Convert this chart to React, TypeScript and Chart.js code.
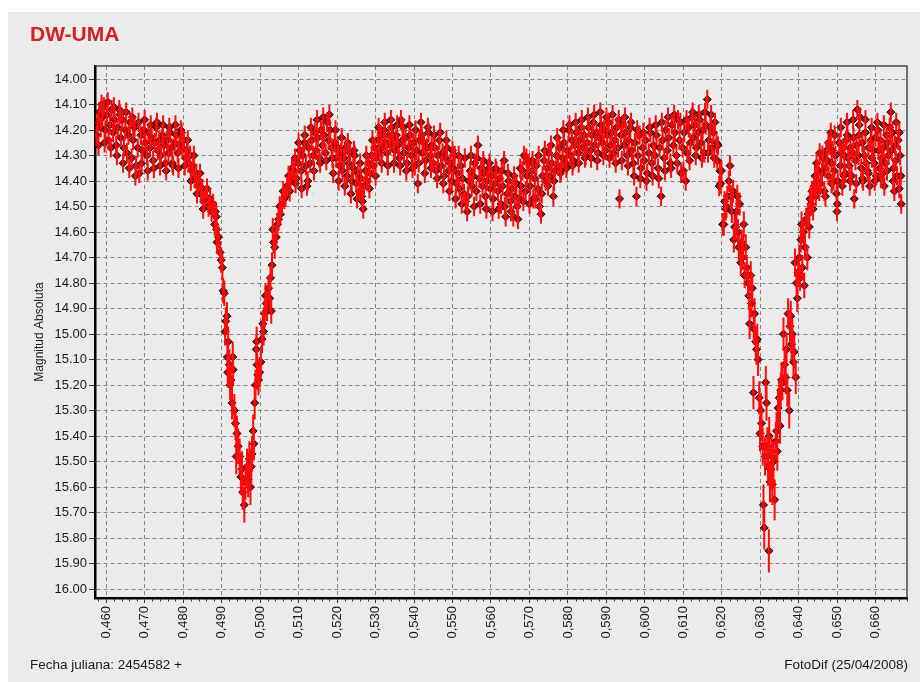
import { useEffect, useRef } from 'react';
import { Chart, registerables } from 'chart.js';

Chart.register(...registerables);

// ---- axes ----
const xTicks = [0.46, 0.47, 0.48, 0.49, 0.5, 0.51, 0.52, 0.53, 0.54, 0.55, 0.56, 0.57, 0.58, 0.59, 0.6, 0.61, 0.62, 0.63, 0.64, 0.65, 0.66];
const yTicks = [14.0, 14.1, 14.2, 14.3, 14.4, 14.5, 14.6, 14.7, 14.8, 14.9, 15.0, 15.1, 15.2, 15.3, 15.4, 15.5, 15.6, 15.7, 15.8, 15.9, 16.0];
const xMin = 0.4571;
const xMax = 0.6681;
const yMin = 13.949;
const yMax = 16.035;

const titleText = 'DW-UMA';
const yTitle = 'Magnitud Absoluta';
const footLeft = 'Fecha juliana: 2454582 +';
const footRight = 'FotoDif (25/04/2008)';

// typical error in the bright (out-of-eclipse) parts
const errFlat = 0.038;

// ---- observations: [JD - 2454582, magnitude] ----
const segA: [number, number][] = [
  [0.4575, 14.22], [0.4578, 14.17], [0.4582, 14.13], [0.4586, 14.19], [0.4590, 14.15], [0.4594, 14.11], [0.4598, 14.20], [0.4602, 14.14],
  [0.4606, 14.24], [0.4610, 14.18], [0.4614, 14.12], [0.4618, 14.21], [0.4622, 14.16], [0.4626, 14.26], [0.4630, 14.19], [0.4634, 14.12],
  [0.4638, 14.23], [0.4642, 14.16], [0.4646, 14.27], [0.4650, 14.20], [0.4654, 14.29], [0.4658, 14.22], [0.4662, 14.17], [0.4666, 14.31],
  [0.4670, 14.24], [0.4674, 14.19], [0.4678, 14.34], [0.4682, 14.27], [0.4686, 14.37], [0.4690, 14.22], [0.4694, 14.28], [0.4698, 14.20],
  [0.4702, 14.25], [0.4706, 14.30], [0.4710, 14.21], [0.4714, 14.27], [0.4718, 14.23], [0.4722, 14.32], [0.4726, 14.25], [0.4730, 14.19],
  [0.4734, 14.28], [0.4738, 14.24], [0.4742, 14.30], [0.4746, 14.22], [0.4750, 14.26], [0.4754, 14.33], [0.4758, 14.24], [0.4762, 14.29],
  [0.4766, 14.21], [0.4770, 14.27], [0.4774, 14.34], [0.4778, 14.25], [0.4782, 14.22], [0.4786, 14.29], [0.4790, 14.26], [0.4794, 14.20],
  [0.4798, 14.27], [0.4802, 14.24], [0.4806, 14.31], [0.4810, 14.28], [0.4814, 14.33], [0.4818, 14.30], [0.4822, 14.36], [0.4826, 14.34],
  [0.4830, 14.39], [0.4834, 14.37], [0.4838, 14.42], [0.4842, 14.40], [0.4846, 14.45], [0.4850, 14.43], [0.4854, 14.48],
];
const segAextra: [number, number][] = [
  [0.4580, 14.26], [0.4588, 14.10], [0.4596, 14.25], [0.4604, 14.09], [0.4612, 14.27], [0.4620, 14.11], [0.4628, 14.30], [0.4636, 14.14],
  [0.4644, 14.33], [0.4652, 14.13], [0.4660, 14.35], [0.4668, 14.15], [0.4676, 14.38], [0.4684, 14.17], [0.4692, 14.33], [0.4700, 14.16],
  [0.4708, 14.36], [0.4716, 14.18], [0.4724, 14.35], [0.4732, 14.17], [0.4740, 14.34], [0.4748, 14.18], [0.4756, 14.36], [0.4764, 14.19],
  [0.4772, 14.33], [0.4780, 14.18], [0.4788, 14.35], [0.4796, 14.21], [0.4804, 14.34], [0.4812, 14.24], [0.4820, 14.40], [0.4828, 14.30],
  [0.4836, 14.45], [0.4844, 14.37], [0.4852, 14.51],
];

// primary eclipse: [JD, magnitude, error]
const eclipseI: [number, number, number][] = [
  [0.4858, 14.46, 0.04], [0.4862, 14.43, 0.04], [0.4866, 14.50, 0.04], [0.4870, 14.47, 0.04], [0.4874, 14.52, 0.04], [0.4878, 14.49, 0.04],
  [0.4882, 14.57, 0.045], [0.4884, 14.52, 0.04], [0.4886, 14.54, 0.045], [0.4887, 14.59, 0.045], [0.4888, 14.64, 0.045], [0.4892, 14.62, 0.045],
  [0.4896, 14.68, 0.045], [0.4899, 14.71, 0.05], [0.4902, 14.74, 0.05], [0.4904, 14.83, 0.05], [0.4907, 14.84, 0.05], [0.4909, 14.99, 0.055],
  [0.4911, 14.95, 0.055], [0.4914, 14.93, 0.055], [0.4915, 15.09, 0.06], [0.4916, 15.15, 0.06], [0.4917, 15.03, 0.06], [0.4920, 15.12, 0.06],
  [0.4922, 15.20, 0.06], [0.4924, 15.18, 0.06], [0.4927, 15.27, 0.065], [0.4929, 15.09, 0.06], [0.4930, 15.14, 0.06], [0.4933, 15.30, 0.065],
  [0.4936, 15.35, 0.065], [0.4938, 15.48, 0.07], [0.4940, 15.39, 0.07], [0.4943, 15.44, 0.07], [0.4947, 15.48, 0.07], [0.4950, 15.56, 0.07],
  [0.4953, 15.53, 0.07], [0.4955, 15.62, 0.07], [0.4959, 15.67, 0.07], [0.4962, 15.58, 0.07], [0.4966, 15.52, 0.07], [0.4969, 15.57, 0.07],
  [0.4972, 15.49, 0.07], [0.4975, 15.60, 0.07], [0.4977, 15.52, 0.07], [0.4979, 15.47, 0.07], [0.4982, 15.38, 0.065], [0.4984, 15.43, 0.065],
  [0.4986, 15.27, 0.065], [0.4988, 15.20, 0.06], [0.4990, 15.06, 0.06], [0.4991, 15.03, 0.06], [0.4992, 15.12, 0.06], [0.4994, 15.16, 0.06],
  [0.4996, 15.18, 0.06], [0.4999, 15.15, 0.06], [0.5002, 15.11, 0.06], [0.5005, 15.02, 0.055], [0.5007, 14.96, 0.055], [0.5009, 14.99, 0.055],
  [0.5012, 14.92, 0.055], [0.5014, 14.85, 0.05], [0.5016, 14.88, 0.05], [0.5018, 14.90, 0.05], [0.5022, 14.82, 0.05], [0.5025, 14.86, 0.05],
  [0.5027, 14.78, 0.05], [0.5029, 14.91, 0.05], [0.5031, 14.73, 0.05], [0.5033, 14.59, 0.045], [0.5035, 14.64, 0.045], [0.5038, 14.66, 0.045],
  [0.5042, 14.62, 0.045], [0.5045, 14.57, 0.045], [0.5048, 14.55, 0.045], [0.5051, 14.50, 0.04], [0.5053, 14.53, 0.04], [0.5057, 14.49, 0.04],
  [0.5060, 14.44, 0.04], [0.5063, 14.47, 0.04], [0.5066, 14.46, 0.04], [0.5070, 14.42, 0.04], [0.5074, 14.38, 0.04], [0.5077, 14.44, 0.04],
  [0.5079, 14.40, 0.04], [0.5083, 14.35, 0.04],
];

const segB1: [number, number][] = [
  [0.5087, 14.36], [0.5091, 14.31], [0.5095, 14.39], [0.5099, 14.33], [0.5103, 14.28], [0.5107, 14.36], [0.5111, 14.30], [0.5115, 14.25],
  [0.5119, 14.34], [0.5122, 14.42], [0.5126, 14.27], [0.5130, 14.33], [0.5134, 14.24], [0.5138, 14.30], [0.5142, 14.21], [0.5146, 14.28],
  [0.5150, 14.23], [0.5154, 14.31], [0.5158, 14.20], [0.5162, 14.26], [0.5166, 14.22], [0.5170, 14.29], [0.5174, 14.17], [0.5178, 14.24],
  [0.5182, 14.20], [0.5186, 14.27], [0.5190, 14.37], [0.5194, 14.25], [0.5198, 14.31], [0.5202, 14.27], [0.5206, 14.34], [0.5210, 14.29],
  [0.5214, 14.36], [0.5218, 14.31], [0.5222, 14.27], [0.5226, 14.38], [0.5230, 14.33], [0.5234, 14.29], [0.5238, 14.40], [0.5242, 14.35],
  [0.5246, 14.30], [0.5250, 14.41], [0.5254, 14.37], [0.5258, 14.44], [0.5262, 14.39], [0.5266, 14.48], [0.5268, 14.51], [0.5270, 14.42],
  [0.5274, 14.36], [0.5278, 14.40], [0.5282, 14.33], [0.5286, 14.37], [0.5290, 14.30], [0.5294, 14.34], [0.5298, 14.27], [0.5302, 14.31],
  [0.5306, 14.24], [0.5310, 14.29], [0.5314, 14.22], [0.5318, 14.27], [0.5322, 14.20], [0.5326, 14.25], [0.5330, 14.29], [0.5334, 14.22],
  [0.5338, 14.26], [0.5342, 14.19], [0.5346, 14.24], [0.5350, 14.28], [0.5354, 14.22], [0.5358, 14.26], [0.5362, 14.31], [0.5366, 14.16],
  [0.5370, 14.24], [0.5374, 14.29], [0.5378, 14.23], [0.5382, 14.33], [0.5386, 14.27], [0.5390, 14.22], [0.5394, 14.30], [0.5398, 14.25],
  [0.5402, 14.34], [0.5406, 14.28], [0.5410, 14.41], [0.5414, 14.24], [0.5418, 14.17], [0.5422, 14.29], [0.5426, 14.25], [0.5430, 14.32],
  [0.5434, 14.27], [0.5438, 14.21], [0.5442, 14.30], [0.5446, 14.26],
];
const segB1extra: [number, number][] = [
  [0.5092, 14.41], [0.5100, 14.25], [0.5108, 14.43], [0.5116, 14.22], [0.5124, 14.40], [0.5132, 14.19], [0.5140, 14.36], [0.5148, 14.16],
  [0.5156, 14.33], [0.5164, 14.15], [0.5172, 14.32], [0.5180, 14.14], [0.5188, 14.31], [0.5196, 14.20], [0.5204, 14.40], [0.5212, 14.23],
  [0.5220, 14.42], [0.5228, 14.25], [0.5236, 14.45], [0.5244, 14.28], [0.5252, 14.47], [0.5260, 14.33], [0.5264, 14.46], [0.5276, 14.30],
  [0.5284, 14.43], [0.5292, 14.24], [0.5300, 14.38], [0.5308, 14.19], [0.5316, 14.33], [0.5324, 14.17], [0.5332, 14.34], [0.5340, 14.16],
  [0.5348, 14.33], [0.5356, 14.18], [0.5364, 14.34], [0.5372, 14.19], [0.5380, 14.36], [0.5388, 14.18], [0.5396, 14.35], [0.5404, 14.20],
  [0.5412, 14.33], [0.5420, 14.22], [0.5428, 14.37], [0.5436, 14.19], [0.5444, 14.35],
];

const segB2: [number, number][] = [
  [0.5450, 14.33], [0.5454, 14.27], [0.5458, 14.36], [0.5462, 14.30], [0.5466, 14.24], [0.5470, 14.34], [0.5474, 14.29], [0.5478, 14.38],
  [0.5482, 14.31], [0.5486, 14.27], [0.5490, 14.36], [0.5494, 14.33], [0.5498, 14.40], [0.5502, 14.35], [0.5506, 14.30], [0.5510, 14.41],
  [0.5514, 14.37], [0.5518, 14.43], [0.5522, 14.34], [0.5526, 14.39], [0.5530, 14.45], [0.5534, 14.48], [0.5538, 14.52], [0.5542, 14.40],
  [0.5546, 14.36], [0.5550, 14.42], [0.5554, 14.38], [0.5558, 14.33], [0.5562, 14.44], [0.5566, 14.26], [0.5570, 14.39], [0.5574, 14.35],
  [0.5578, 14.42], [0.5582, 14.37], [0.5586, 14.46], [0.5590, 14.40], [0.5594, 14.35], [0.5598, 14.43], [0.5602, 14.38], [0.5606, 14.47],
  [0.5610, 14.41], [0.5614, 14.36], [0.5618, 14.44], [0.5622, 14.39], [0.5626, 14.49], [0.5630, 14.42], [0.5634, 14.32], [0.5638, 14.54],
  [0.5642, 14.45], [0.5646, 14.40], [0.5650, 14.48], [0.5654, 14.43], [0.5658, 14.54], [0.5662, 14.46], [0.5666, 14.41], [0.5670, 14.55],
  [0.5674, 14.47], [0.5678, 14.42], [0.5682, 14.36], [0.5686, 14.30], [0.5690, 14.44], [0.5694, 14.38], [0.5698, 14.33], [0.5702, 14.42],
  [0.5706, 14.36], [0.5710, 14.47], [0.5714, 14.39], [0.5718, 14.34], [0.5722, 14.43], [0.5726, 14.50], [0.5730, 14.53], [0.5734, 14.38],
  [0.5738, 14.32], [0.5742, 14.40], [0.5746, 14.35], [0.5750, 14.29], [0.5754, 14.38], [0.5758, 14.33], [0.5762, 14.46], [0.5766, 14.36],
  [0.5770, 14.30], [0.5774, 14.34], [0.5778, 14.27], [0.5782, 14.36], [0.5786, 14.31], [0.5790, 14.25], [0.5794, 14.33], [0.5798, 14.28],
  [0.5802, 14.20], [0.5806, 14.30], [0.5810, 14.24], [0.5814, 14.32], [0.5818, 14.26], [0.5822, 14.21], [0.5826, 14.29], [0.5830, 14.24],
  [0.5834, 14.19], [0.5838, 14.27], [0.5842, 14.22], [0.5846, 14.30],
];
const segB2extra: [number, number][] = [
  [0.5452, 14.22], [0.5460, 14.39], [0.5468, 14.21], [0.5476, 14.41], [0.5484, 14.24], [0.5492, 14.44], [0.5500, 14.28], [0.5508, 14.47],
  [0.5516, 14.30], [0.5524, 14.49], [0.5532, 14.31], [0.5540, 14.46], [0.5548, 14.30], [0.5556, 14.50], [0.5564, 14.31], [0.5572, 14.49],
  [0.5580, 14.32], [0.5588, 14.51], [0.5596, 14.33], [0.5604, 14.52], [0.5612, 14.35], [0.5620, 14.51], [0.5628, 14.36], [0.5636, 14.50],
  [0.5644, 14.37], [0.5652, 14.52], [0.5660, 14.38], [0.5668, 14.50], [0.5676, 14.35], [0.5684, 14.48], [0.5692, 14.31], [0.5700, 14.49],
  [0.5708, 14.32], [0.5716, 14.47], [0.5724, 14.30], [0.5732, 14.45], [0.5740, 14.28], [0.5748, 14.42], [0.5756, 14.26], [0.5764, 14.40],
  [0.5772, 14.23], [0.5780, 14.37], [0.5788, 14.20], [0.5796, 14.35], [0.5804, 14.18], [0.5812, 14.34], [0.5820, 14.17], [0.5828, 14.33],
  [0.5836, 14.16], [0.5844, 14.31],
];

const segB3: [number, number][] = [
  [0.5850, 14.25], [0.5854, 14.19], [0.5858, 14.28], [0.5862, 14.22], [0.5866, 14.17], [0.5870, 14.26], [0.5874, 14.21], [0.5878, 14.29],
  [0.5882, 14.23], [0.5886, 14.18], [0.5890, 14.25], [0.5894, 14.20], [0.5898, 14.28], [0.5902, 14.22], [0.5906, 14.17], [0.5910, 14.26],
  [0.5914, 14.21], [0.5918, 14.29], [0.5922, 14.24], [0.5926, 14.19], [0.5930, 14.27], [0.5934, 14.47], [0.5938, 14.22], [0.5942, 14.18],
  [0.5946, 14.26], [0.5950, 14.21], [0.5954, 14.30], [0.5958, 14.24], [0.5962, 14.19], [0.5966, 14.28], [0.5970, 14.33], [0.5974, 14.25],
  [0.5978, 14.46], [0.5982, 14.30], [0.5986, 14.22], [0.5990, 14.35], [0.5994, 14.27], [0.5998, 14.32], [0.6002, 14.24], [0.6006, 14.37],
  [0.6010, 14.29], [0.6014, 14.21], [0.6018, 14.33], [0.6022, 14.26], [0.6026, 14.30], [0.6030, 14.22], [0.6034, 14.35], [0.6038, 14.27],
  [0.6042, 14.46], [0.6046, 14.24], [0.6050, 14.31], [0.6054, 14.20], [0.6058, 14.28], [0.6062, 14.23], [0.6066, 14.33], [0.6070, 14.18],
  [0.6074, 14.26], [0.6078, 14.21], [0.6082, 14.30], [0.6086, 14.16], [0.6090, 14.24], [0.6094, 14.37], [0.6098, 14.27], [0.6102, 14.21],
  [0.6106, 14.40], [0.6110, 14.29], [0.6114, 14.19], [0.6118, 14.25], [0.6122, 14.15], [0.6126, 14.23], [0.6130, 14.18], [0.6134, 14.27],
  [0.6138, 14.21], [0.6142, 14.16], [0.6146, 14.25], [0.6150, 14.20], [0.6154, 14.29], [0.6158, 14.18], [0.6162, 14.08], [0.6166, 14.24],
  [0.6170, 14.19], [0.6174, 14.27], [0.6178, 14.21], [0.6182, 14.17], [0.6186, 14.25],
];
const segB3extra: [number, number][] = [
  [0.5852, 14.15], [0.5860, 14.31], [0.5868, 14.14], [0.5876, 14.32], [0.5884, 14.13], [0.5892, 14.30], [0.5900, 14.15], [0.5908, 14.31],
  [0.5916, 14.14], [0.5924, 14.33], [0.5932, 14.16], [0.5940, 14.32], [0.5948, 14.15], [0.5956, 14.34], [0.5964, 14.17], [0.5972, 14.38],
  [0.5980, 14.20], [0.5988, 14.39], [0.5996, 14.21], [0.6004, 14.40], [0.6012, 14.19], [0.6020, 14.38], [0.6028, 14.18], [0.6036, 14.39],
  [0.6044, 14.17], [0.6052, 14.36], [0.6060, 14.15], [0.6068, 14.35], [0.6076, 14.14], [0.6084, 14.33], [0.6092, 14.17], [0.6100, 14.36],
  [0.6108, 14.16], [0.6116, 14.32], [0.6124, 14.13], [0.6132, 14.30], [0.6140, 14.14], [0.6148, 14.31], [0.6156, 14.13], [0.6164, 14.29],
  [0.6172, 14.14], [0.6180, 14.31],
];

// secondary eclipse: [JD, magnitude, error]
const eclipseII: [number, number, number][] = [
  [0.6188, 14.32, 0.035], [0.6190, 14.26, 0.035], [0.6193, 14.42, 0.04], [0.6195, 14.36, 0.035], [0.6197, 14.41, 0.04], [0.6199, 14.36, 0.04],
  [0.6202, 14.57, 0.045], [0.6205, 14.57, 0.045], [0.6207, 14.48, 0.04], [0.6210, 14.51, 0.045], [0.6212, 14.50, 0.045], [0.6214, 14.46, 0.04],
  [0.6218, 14.40, 0.04], [0.6221, 14.34, 0.04], [0.6223, 14.46, 0.045], [0.6226, 14.52, 0.045], [0.6229, 14.44, 0.045], [0.6231, 14.63, 0.05],
  [0.6233, 14.58, 0.05], [0.6236, 14.58, 0.05], [0.6238, 14.52, 0.045], [0.6240, 14.46, 0.045], [0.6242, 14.60, 0.05], [0.6244, 14.66, 0.05],
  [0.6246, 14.49, 0.045], [0.6249, 14.72, 0.05], [0.6251, 14.64, 0.05], [0.6253, 14.70, 0.05], [0.6255, 14.66, 0.05], [0.6257, 14.57, 0.05],
  [0.6259, 14.77, 0.05], [0.6262, 14.66, 0.05], [0.6265, 14.74, 0.05], [0.6268, 14.80, 0.055], [0.6270, 14.85, 0.055], [0.6272, 14.96, 0.06],
  [0.6275, 14.77, 0.055], [0.6277, 14.88, 0.055], [0.6279, 14.82, 0.055], [0.6282, 15.23, 0.065], [0.6283, 14.98, 0.06], [0.6285, 14.92, 0.06],
  [0.6288, 15.03, 0.06], [0.6290, 15.06, 0.06], [0.6292, 15.02, 0.06], [0.6294, 15.10, 0.065], [0.6297, 15.25, 0.065], [0.6299, 15.39, 0.07],
  [0.6301, 15.30, 0.07], [0.6303, 15.35, 0.07], [0.6306, 15.44, 0.075], [0.6308, 15.67, 0.08], [0.6310, 15.76, 0.085], [0.6312, 15.48, 0.075],
  [0.6314, 15.19, 0.065], [0.6316, 15.27, 0.07], [0.6318, 15.44, 0.075], [0.6320, 15.52, 0.075], [0.6322, 15.85, 0.085], [0.6323, 15.40, 0.075],
  [0.6325, 15.58, 0.08], [0.6327, 15.53, 0.08], [0.6329, 15.48, 0.08], [0.6331, 15.59, 0.08], [0.6334, 15.50, 0.08], [0.6337, 15.65, 0.08],
  [0.6340, 15.42, 0.075], [0.6342, 15.38, 0.075], [0.6344, 15.46, 0.075], [0.6346, 15.29, 0.07], [0.6349, 15.25, 0.07], [0.6351, 15.36, 0.07],
  [0.6353, 15.22, 0.07], [0.6355, 15.18, 0.07], [0.6357, 15.19, 0.07], [0.6360, 15.00, 0.065], [0.6363, 15.12, 0.065], [0.6366, 15.17, 0.065],
  [0.6368, 15.06, 0.065], [0.6370, 15.22, 0.065], [0.6372, 14.92, 0.06], [0.6375, 15.30, 0.07], [0.6377, 14.97, 0.06], [0.6379, 14.93, 0.06],
  [0.6381, 15.04, 0.06], [0.6383, 15.00, 0.06], [0.6386, 15.11, 0.065], [0.6388, 15.07, 0.065], [0.6390, 14.72, 0.055], [0.6392, 15.17, 0.065],
  [0.6394, 14.80, 0.055], [0.6396, 14.86, 0.055], [0.6398, 14.76, 0.055], [0.6401, 14.70, 0.05], [0.6403, 14.78, 0.05], [0.6405, 14.63, 0.05],
  [0.6407, 14.57, 0.05], [0.6409, 14.74, 0.05], [0.6412, 14.60, 0.05], [0.6414, 14.81, 0.05], [0.6416, 14.66, 0.05], [0.6419, 14.55, 0.045],
  [0.6422, 14.70, 0.05], [0.6424, 14.53, 0.045], [0.6427, 14.58, 0.045], [0.6429, 14.47, 0.045], [0.6431, 14.49, 0.045], [0.6434, 14.44, 0.04],
  [0.6437, 14.51, 0.045], [0.6440, 14.42, 0.04], [0.6442, 14.38, 0.04], [0.6444, 14.46, 0.04], [0.6446, 14.33, 0.04], [0.6448, 14.40, 0.04],
];

const segC: [number, number][] = [
  [0.6451, 14.36], [0.6454, 14.29], [0.6457, 14.41], [0.6460, 14.37], [0.6463, 14.31], [0.6466, 14.44], [0.6469, 14.35], [0.6472, 14.28],
  [0.6474, 14.32], [0.6477, 14.38], [0.6480, 14.26], [0.6483, 14.21], [0.6485, 14.33], [0.6487, 14.28], [0.6490, 14.40], [0.6492, 14.36],
  [0.6495, 14.30], [0.6498, 14.45], [0.6499, 14.52], [0.6500, 14.49], [0.6505, 14.25], [0.6508, 14.34], [0.6510, 14.29], [0.6513, 14.42],
  [0.6516, 14.27], [0.6518, 14.30], [0.6521, 14.37], [0.6523, 14.24], [0.6526, 14.22], [0.6528, 14.31], [0.6531, 14.34], [0.6534, 14.27],
  [0.6537, 14.38], [0.6540, 14.29], [0.6542, 14.23], [0.6544, 14.47], [0.6547, 14.32], [0.6550, 14.26], [0.6552, 14.12], [0.6555, 14.30],
  [0.6557, 14.22], [0.6559, 14.15], [0.6562, 14.35], [0.6565, 14.25], [0.6567, 14.40], [0.6570, 14.30], [0.6573, 14.21], [0.6575, 14.33],
  [0.6578, 14.36], [0.6581, 14.27], [0.6584, 14.42], [0.6587, 14.24], [0.6590, 14.31], [0.6593, 14.28], [0.6596, 14.33], [0.6599, 14.23],
  [0.6601, 14.38], [0.6604, 14.17], [0.6607, 14.28], [0.6610, 14.35], [0.6612, 14.24], [0.6615, 14.31], [0.6617, 14.37], [0.6620, 14.27],
  [0.6622, 14.42], [0.6625, 14.33], [0.6628, 14.22], [0.6630, 14.25], [0.6633, 14.30], [0.6636, 14.19], [0.6639, 14.13], [0.6641, 14.28],
  [0.6643, 14.21], [0.6646, 14.35], [0.6648, 14.44], [0.6650, 14.26], [0.6652, 14.32], [0.6655, 14.38], [0.6658, 14.24], [0.6661, 14.21],
  [0.6663, 14.30], [0.6665, 14.38], [0.6666, 14.49],
];
const segCextra: [number, number][] = [
  [0.6453, 14.44], [0.6461, 14.30], [0.6469, 14.46], [0.6477, 14.25], [0.6485, 14.41], [0.6493, 14.22], [0.6501, 14.40], [0.6509, 14.19],
  [0.6517, 14.38], [0.6525, 14.17], [0.6533, 14.40], [0.6541, 14.16], [0.6549, 14.41], [0.6557, 14.18], [0.6565, 14.39], [0.6573, 14.16],
  [0.6581, 14.37], [0.6589, 14.19], [0.6597, 14.40], [0.6605, 14.20], [0.6613, 14.39], [0.6621, 14.18], [0.6629, 14.36], [0.6637, 14.22],
  [0.6645, 14.40], [0.6653, 14.17], [0.6661, 14.43],
];

type Obs = { x: number; y: number; e: number };
const flat = (s: [number, number][]): Obs[] => s.map(([x, m]) => ({ x, y: m, e: errFlat }));
const withErr = (s: [number, number, number][]): Obs[] => s.map(([x, m, e]) => ({ x, y: m, e }));

const FONT = "'Liberation Sans', Arial, sans-serif";

const errorBars = {
  id: 'errorBars',
  afterDatasetsDraw(chart: any) {
    const { ctx, chartArea } = chart;
    const meta = chart.getDatasetMeta(0);
    const data = chart.data.datasets[0].data as Obs[];
    const ys = chart.scales.y;
    ctx.save();
    ctx.beginPath();
    ctx.rect(chartArea.left, chartArea.top, chartArea.right - chartArea.left, chartArea.bottom - chartArea.top);
    ctx.clip();
    ctx.strokeStyle = '#ff0a0a';
    ctx.lineWidth = 2;
    ctx.beginPath();
    data.forEach((p, i) => {
      const el = meta.data[i];
      if (!el) return;
      ctx.moveTo(el.x, ys.getPixelForValue(p.y - p.e));
      ctx.lineTo(el.x, ys.getPixelForValue(p.y + p.e));
    });
    ctx.stroke();
    ctx.restore();
  },
};

const frame = {
  id: 'frame',
  afterDraw(chart: any) {
    const { ctx, chartArea } = chart;
    const { left, right, top, bottom } = chartArea;
    ctx.save();
    ctx.strokeStyle = '#4a4a4a';
    ctx.lineWidth = 1.5;
    ctx.beginPath();
    ctx.moveTo(left, top);
    ctx.lineTo(right, top);
    ctx.lineTo(right, bottom);
    ctx.stroke();
    // minor ticks on the time axis
    const xs = chart.scales.x;
    ctx.strokeStyle = '#333';
    ctx.lineWidth = 1;
    ctx.beginPath();
    for (let k = 0; k < xTicks.length; k++) {
      for (let m = -4; m <= 4; m++) {
        if (m === 0) continue;
        if (m < 0 && k > 0) continue;
        const v = xTicks[k] + m * 0.002;
        if (v < xMin || v > xMax) continue;
        const px = Math.round(xs.getPixelForValue(v)) + 0.5;
        ctx.moveTo(px, bottom + 1);
        ctx.lineTo(px, bottom + 3.5);
      }
    }
    ctx.stroke();
    ctx.restore();
  },
};

export default function App() {
  const ref = useRef<HTMLCanvasElement>(null);

  useEffect(() => {
    const points: Obs[] = [
      ...flat(segA),
      ...flat(segAextra),
      ...withErr(eclipseI),
      ...flat(segB1),
      ...flat(segB1extra),
      ...flat(segB2),
      ...flat(segB2extra),
      ...flat(segB3),
      ...flat(segB3extra),
      ...withErr(eclipseII),
      ...flat(segC),
      ...flat(segCextra),
    ];
    const chart = new Chart(ref.current as HTMLCanvasElement, {
      type: 'scatter',
      data: {
        datasets: [
          {
            data: points as any,
            pointStyle: 'rectRot',
            pointRadius: 4,
            pointHoverRadius: 4,
            backgroundColor: '#a80c0c',
            borderColor: '#200000',
            borderWidth: 1,
            showLine: false,
          },
        ],
      },
      options: {
        animation: false,
        responsive: false,
        events: [],
        layout: { padding: { left: 28, top: 66, right: 17, bottom: 0 } },
        plugins: {
          legend: { display: false },
          tooltip: { enabled: false },
          title: { display: false },
        },
        scales: {
          x: {
            type: 'linear',
            min: xMin,
            max: xMax,
            afterBuildTicks: (s: any) => {
              s.ticks = xTicks.map((v) => ({ value: v }));
            },
            afterFit: (s: any) => {
              s.height = 84;
            },
            ticks: {
              autoSkip: false,
              minRotation: 90,
              maxRotation: 90,
              padding: 3,
              color: '#1a1a1a',
              font: { family: FONT, size: 13 },
              callback: (v: any) => Number(v).toFixed(3).replace('.', ','),
            },
            grid: { color: '#858585', lineWidth: 1, tickLength: 5, tickColor: '#333', tickWidth: 1 },
            border: { color: '#000', width: 2.5, dash: [4, 3] },
          },
          y: {
            type: 'linear',
            reverse: true,
            min: yMin,
            max: yMax,
            afterBuildTicks: (s: any) => {
              s.ticks = yTicks.map((v) => ({ value: v }));
            },
            afterFit: (s: any) => {
              s.width = 67;
            },
            ticks: {
              autoSkip: false,
              padding: 2,
              color: '#1a1a1a',
              font: { family: FONT, size: 13 },
              callback: (v: any) => Number(v).toFixed(2),
            },
            title: {
              display: true,
              text: yTitle,
              color: '#1a1a1a',
              font: { family: FONT, size: 12 },
              padding: { top: 4, bottom: 4 },
            },
            grid: { color: '#858585', lineWidth: 1, tickLength: 6, tickColor: '#333', tickWidth: 1 },
            border: { color: '#000', width: 2.5, dash: [4, 3] },
          },
        },
      },
      plugins: [errorBars, frame],
    });
    return () => chart.destroy();
  }, []);

  return (
    <div style={{ position: 'fixed', left: 0, top: 0, width: 924, height: 682, background: '#fff', overflow: 'hidden' }}>
      <div style={{ position: 'absolute', left: 8, top: 12, width: 912, height: 670, background: '#ebebeb' }} />
      <canvas ref={ref} width={924} height={682} style={{ position: 'absolute', left: 0, top: 0, width: 924, height: 682 }} />
      <div
        style={{
          position: 'absolute',
          left: 30,
          top: 24,
          fontFamily: FONT,
          fontWeight: 'bold',
          fontSize: 21,
          lineHeight: '20px',
          color: '#d42222',
        }}
      >
        {titleText}
      </div>
      <div style={{ position: 'absolute', left: 30, top: 657, fontFamily: FONT, fontSize: 13.5, lineHeight: '16px', color: '#1a1a1a' }}>
        {footLeft}
      </div>
      <div style={{ position: 'absolute', right: 16, top: 657, fontFamily: FONT, fontSize: 13.5, lineHeight: '16px', color: '#1a1a1a' }}>
        {footRight}
      </div>
    </div>
  );
}
